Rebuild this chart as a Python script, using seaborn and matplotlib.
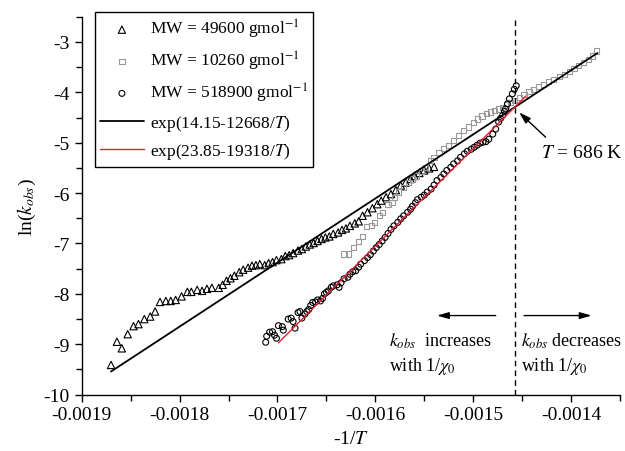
import pandas as pd
import matplotlib
matplotlib.use("Agg")
import matplotlib.pyplot as plt
import seaborn as sns
from matplotlib.ticker import MultipleLocator, FuncFormatter

sns.set_style("ticks", {"axes.edgecolor": "black", "xtick.color": "black",
                        "ytick.color": "black", "text.color": "black",
                        "axes.labelcolor": "black"})
plt.rcParams['font.family'] = ['Liberation Serif', 'DejaVu Serif']
plt.rcParams['mathtext.fontset'] = 'stix'
plt.rcParams['axes.unicode_minus'] = False

# MW = 49600 gmol-1 (triangles)
tri_x = [-0.001870, -0.001864, -0.001859, -0.001853, -0.001847, -0.001842, -0.001836,
         -0.001830, -0.001825, -0.001820, -0.001814, -0.001809, -0.001804, -0.001798,
         -0.001792, -0.001788, -0.001782, -0.001777, -0.001772, -0.001767, -0.001760,
         -0.001756, -0.001752, -0.001748, -0.001744, -0.001739, -0.001735, -0.001730,
         -0.001726, -0.001722, -0.001718, -0.001713, -0.001709, -0.001705, -0.001701,
         -0.001696, -0.001692, -0.001688, -0.001684, -0.001679, -0.001675, -0.001671,
         -0.001667, -0.001663, -0.001659, -0.001655, -0.001651, -0.001647, -0.001643,
         -0.001638, -0.001634, -0.001630, -0.001626, -0.001621, -0.001617, -0.001613,
         -0.001608, -0.001603, -0.001598, -0.001594, -0.001589, -0.001584, -0.001579,
         -0.001574, -0.001569, -0.001564, -0.001560, -0.001555, -0.001550, -0.001545,
         -0.001540]
tri_y = [-9.41, -8.95, -9.08, -8.80, -8.64, -8.60, -8.50,
         -8.45, -8.35, -8.16, -8.14, -8.14, -8.12, -8.05,
         -7.96, -7.96, -7.92, -7.94, -7.90, -7.88, -7.88,
         -7.82, -7.74, -7.69, -7.64, -7.57, -7.52, -7.48,
         -7.44, -7.43, -7.41, -7.43, -7.39, -7.37, -7.33,
         -7.31, -7.25, -7.23, -7.19, -7.14, -7.11, -7.06,
         -7.02, -6.99, -6.95, -6.91, -6.88, -6.86, -6.81,
         -6.78, -6.73, -6.70, -6.65, -6.60, -6.56, -6.45,
         -6.38, -6.30, -6.22, -6.15, -6.08, -6.02, -5.94,
         -5.85, -5.79, -5.72, -5.66, -5.60, -5.55, -5.51,
         -5.48]

# MW = 10260 gmol-1 (squares)
sq_x = [-0.001632, -0.001627, -0.001622, -0.001617, -0.001613, -0.001609, -0.001604,
        -0.001601, -0.001596, -0.001593, -0.001587, -0.001583, -0.001580, -0.001576,
        -0.001571, -0.001566, -0.001562, -0.001558, -0.001553, -0.001549, -0.001544,
        -0.001540, -0.001535, -0.001530, -0.001525, -0.001520, -0.001515, -0.001510,
        -0.001505, -0.001500, -0.001496, -0.001491, -0.001486, -0.001482, -0.001478,
        -0.001474, -0.001470, -0.001466, -0.001462, -0.001458, -0.001453, -0.001448,
        -0.001443, -0.001438, -0.001433, -0.001428, -0.001423, -0.001418, -0.001412,
        -0.001407, -0.001402, -0.001397, -0.001392, -0.001387, -0.001382, -0.001378,
        -0.001374]
sq_y = [-7.21, -7.21, -7.08, -6.96, -6.86, -6.66, -6.65,
        -6.58, -6.45, -6.38, -6.22, -6.18, -6.08, -5.98,
        -5.89, -5.79, -5.72, -5.66, -5.56, -5.49, -5.36,
        -5.29, -5.19, -5.12, -5.06, -4.96, -4.86, -4.76,
        -4.69, -4.60, -4.53, -4.47, -4.42, -4.39, -4.36,
        -4.33, -4.30, -4.25, -4.21, -4.17, -4.10, -4.04,
        -3.99, -3.94, -3.89, -3.84, -3.79, -3.74, -3.68,
        -3.64, -3.59, -3.53, -3.47, -3.41, -3.35, -3.28,
        -3.18]

# MW = 518900 gmol-1 (circles)
circ_x = [-0.001712, -0.001711, -0.001708, -0.001705, -0.001703, -0.001701, -0.001699,
          -0.001695, -0.001694, -0.001689, -0.001686, -0.001684, -0.001682, -0.001679,
          -0.001677, -0.001675, -0.001672, -0.001670, -0.001668, -0.001666, -0.001664,
          -0.001661, -0.001659, -0.001656, -0.001654, -0.001652, -0.001650, -0.001648,
          -0.001645, -0.001643, -0.001639, -0.001637, -0.001635, -0.001632, -0.001628,
          -0.001626, -0.001623, -0.001620, -0.001617, -0.001615, -0.001611, -0.001608,
          -0.001605, -0.001602, -0.001599, -0.001596, -0.001593, -0.001590, -0.001587,
          -0.001584, -0.001581, -0.001577, -0.001574, -0.001571, -0.001567, -0.001564,
          -0.001562, -0.001559, -0.001557, -0.001553, -0.001550, -0.001547, -0.001543,
          -0.001540, -0.001537, -0.001533, -0.001530, -0.001527, -0.001523, -0.001520,
          -0.001516, -0.001513, -0.001509, -0.001506, -0.001502, -0.001499, -0.001496,
          -0.001493, -0.001490, -0.001487, -0.001484, -0.001480, -0.001477, -0.001474,
          -0.001472, -0.001470, -0.001468, -0.001467, -0.001465, -0.001463, -0.001460,
          -0.001458, -0.001456]
circ_y = [-8.96, -8.84, -8.76, -8.75, -8.82, -8.88, -8.63,
          -8.65, -8.72, -8.50, -8.48, -8.55, -8.68, -8.37,
          -8.35, -8.48, -8.40, -8.35, -8.31, -8.23, -8.17,
          -8.16, -8.12, -8.14, -8.09, -8.00, -7.97, -7.94,
          -7.87, -7.84, -7.82, -7.87, -7.78, -7.70, -7.67,
          -7.61, -7.56, -7.54, -7.47, -7.41, -7.34, -7.28,
          -7.22, -7.15, -7.08, -7.02, -6.95, -6.88, -6.80,
          -6.72, -6.65, -6.58, -6.51, -6.45, -6.38, -6.32,
          -6.26, -6.19, -6.13, -6.08, -6.04, -5.98, -5.92,
          -5.84, -5.75, -5.69, -5.62, -5.55, -5.49, -5.42,
          -5.36, -5.29, -5.22, -5.17, -5.13, -5.09, -5.05,
          -5.01, -4.99, -4.98, -4.93, -4.83, -4.73, -4.59,
          -4.52, -4.46, -4.38, -4.33, -4.23, -4.13, -4.03,
          -3.94, -3.87]

# fitted lines (end points)
fit1_x = [-0.001870, -0.001373]
fit1_y = [-9.54, -3.22]
fit2_x = [-0.001699, -0.001446]
fit2_y = [-8.97, -4.07]

T_cross = 686

labels = ["MW = 49600 gmol$^{-1}$", "MW = 10260 gmol$^{-1}$",
          "MW = 518900 gmol$^{-1}$", "exp(14.15-12668/$T$)", "exp(23.85-19318/$T$)"]

df_tri = pd.DataFrame({"x": tri_x, "y": tri_y})
df_sq = pd.DataFrame({"x": sq_x, "y": sq_y})
df_circ = pd.DataFrame({"x": circ_x, "y": circ_y})

fig = plt.figure(figsize=(6.25, 4.52), dpi=100)
ax = fig.add_axes([0.1307, 0.1246, 0.8613, 0.8362])

fs = 14
sns.scatterplot(data=df_tri, x="x", y="y", marker="^", s=28, facecolor="none",
                edgecolor="black", linewidth=0.8, ax=ax, label=labels[0])
sns.scatterplot(data=df_sq, x="x", y="y", marker="s", s=14, facecolor="none",
                edgecolor="#999999", linewidth=0.8, ax=ax, label=labels[1])
sns.scatterplot(data=df_circ, x="x", y="y", marker="o", s=18, facecolor="none",
                edgecolor="black", linewidth=0.8, ax=ax, label=labels[2])
sns.lineplot(x=fit1_x, y=fit1_y, color="black", lw=1.3, ax=ax, label=labels[3])
sns.lineplot(x=fit2_x, y=fit2_y, color="#e8202a", lw=1.0, ax=ax, label=labels[4])

ax.axvline(-1.0 / T_cross, color="black", lw=1, ls=(0, (4, 3)))

ax.set_xlim(-0.0019, -0.00135)
ax.set_ylim(-10, -2.5)
ax.xaxis.set_major_locator(MultipleLocator(0.0001))
ax.xaxis.set_minor_locator(MultipleLocator(0.00005))
ax.yaxis.set_major_locator(MultipleLocator(1))
ax.yaxis.set_minor_locator(MultipleLocator(0.5))
ax.xaxis.set_major_formatter(FuncFormatter(lambda v, p: f"{v:.4f}"))
ax.yaxis.set_major_formatter(FuncFormatter(lambda v, p: f"{v:.0f}"))
ax.tick_params(which="major", direction="out", length=5, width=1, labelsize=fs)
ax.tick_params(which="minor", direction="out", length=4, width=1)
sns.despine(ax=ax)
for s in ["left", "bottom"]:
    ax.spines[s].set_linewidth(1)

ax.set_xlabel("-1/$T$", fontsize=fs, labelpad=5)
ax.set_ylabel("ln($k_{obs}$)", fontsize=fs, labelpad=4)

# annotations
afs = 13
ax.annotate("", xy=(-0.001453, -4.40), xytext=(-0.001426, -4.89),
            arrowprops=dict(arrowstyle="-|>,head_length=0.7,head_width=0.22",
                            color="black", lw=1, shrinkA=0, shrinkB=0))
ax.text(-0.001431, -5.19, "$T$ = 686 K", fontsize=fs, va="center", ha="left")
ax.annotate("", xy=(-0.001537, -8.43), xytext=(-0.001477, -8.43),
            arrowprops=dict(arrowstyle="-|>,head_length=0.7,head_width=0.2",
                            color="black", lw=1, shrinkA=0, shrinkB=0))
ax.annotate("", xy=(-0.001379, -8.43), xytext=(-0.001448, -8.43),
            arrowprops=dict(arrowstyle="-|>,head_length=0.7,head_width=0.2",
                            color="black", lw=1, shrinkA=0, shrinkB=0))
ax.text(-0.001586, -8.93, "$k_{obs}$  increases", fontsize=afs, va="center", ha="left")
ax.text(-0.001586, -9.42, "with 1/$\\chi_0$", fontsize=afs, va="center", ha="left")
ax.text(-0.001451, -8.93, "$k_{obs}$ decreases", fontsize=afs, va="center", ha="left",
        clip_on=False)
ax.text(-0.001451, -9.42, "with 1/$\\chi_0$", fontsize=afs, va="center", ha="left")

handles, labs = ax.get_legend_handles_labels()
leg = ax.legend(handles, labs, loc="upper left", bbox_to_anchor=(95 / 625, 1 - 13 / 452),
                bbox_transform=fig.transFigure, borderaxespad=0, fontsize=12.5,
                frameon=True, fancybox=False, edgecolor="black", framealpha=1,
                handlelength=2.5, handletextpad=0.35, labelspacing=0.5,
                borderpad=0.3)
leg.get_frame().set_linewidth(1)

plt.savefig("out.png", dpi=100)
